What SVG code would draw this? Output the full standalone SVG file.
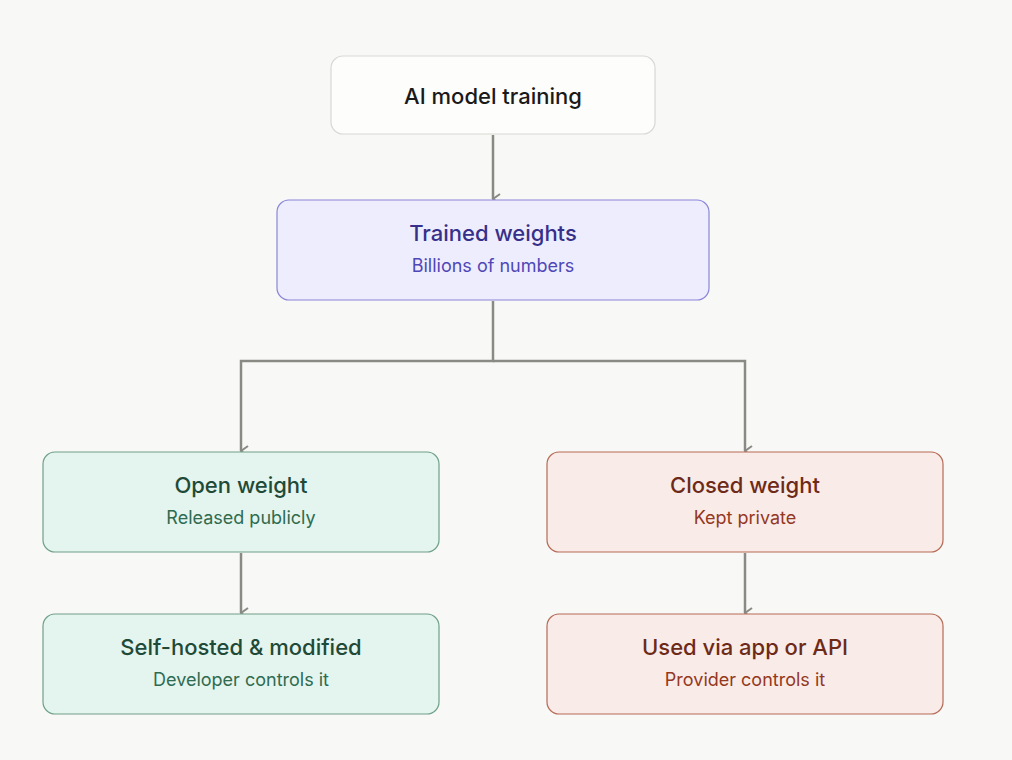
<svg xmlns="http://www.w3.org/2000/svg" width="1012" height="760" viewBox="0 0 1012 760">
<style>
text{font-family:Inter,"Noto Sans",sans-serif;text-anchor:middle}
.t{font-size:22px;font-weight:500}
.s{font-size:18px}
.c{fill:none;stroke:#8a8a85;stroke-width:2.5}
</style>
<defs><marker id="a" viewBox="0 0 12 12" refX="6" refY="11" markerWidth="12" markerHeight="12" markerUnits="userSpaceOnUse" orient="auto-start-reverse"><path d="M1 4 L6 11 L11 4" fill="none" stroke="#8a8a85" stroke-width="2"/></marker></defs>
<rect width="1012" height="760" fill="#f8f8f6"/>
<g id="connectors">
<path class="c" d="M493 135 V199" marker-end="url(#a)"/>
<path class="c" d="M493 301 V361 H241 V451" marker-end="url(#a)"/>
<path class="c" d="M493 361 H745 V451" marker-end="url(#a)"/>
<path class="c" d="M241 553 V613" marker-end="url(#a)"/>
<path class="c" d="M745 553 V613" marker-end="url(#a)"/>
</g>
<g id="training"><rect x="331" y="56" width="324" height="78" rx="12" fill="#fdfdfc" stroke="#d8d8d4" stroke-width="1.2"/><text class="t" x="493" y="104" fill="#1a1a1a">AI model training</text></g>
<g id="weights"><rect x="277" y="200" width="432" height="100" rx="12" fill="#eeedfd" stroke="#8a85d8" stroke-width="1.2"/><text class="t" x="493" y="241" fill="#37308a">Trained weights</text><text class="s" x="493" y="272" fill="#4f47b8">Billions of numbers</text></g>
<g id="open"><rect x="43" y="452" width="396" height="100" rx="12" fill="#e4f4ee" stroke="#6fa088" stroke-width="1.2"/><text class="t" x="241" y="493" fill="#1f4a38">Open weight</text><text class="s" x="241" y="524" fill="#2f6b50">Released publicly</text></g>
<g id="closed"><rect x="547" y="452" width="396" height="100" rx="12" fill="#f9ebe7" stroke="#b66a55" stroke-width="1.2"/><text class="t" x="745" y="493" fill="#6e2a18">Closed weight</text><text class="s" x="745" y="524" fill="#94381f">Kept private</text></g>
<g id="selfhosted"><rect x="43" y="614" width="396" height="100" rx="12" fill="#e4f4ee" stroke="#6fa088" stroke-width="1.2"/><text class="t" x="241" y="655" fill="#1f4a38">Self-hosted &amp; modified</text><text class="s" x="241" y="686" fill="#2f6b50">Developer controls it</text></g>
<g id="api"><rect x="547" y="614" width="396" height="100" rx="12" fill="#f9ebe7" stroke="#b66a55" stroke-width="1.2"/><text class="t" x="745" y="655" fill="#6e2a18">Used via app or API</text><text class="s" x="745" y="686" fill="#94381f">Provider controls it</text></g>
</svg>
